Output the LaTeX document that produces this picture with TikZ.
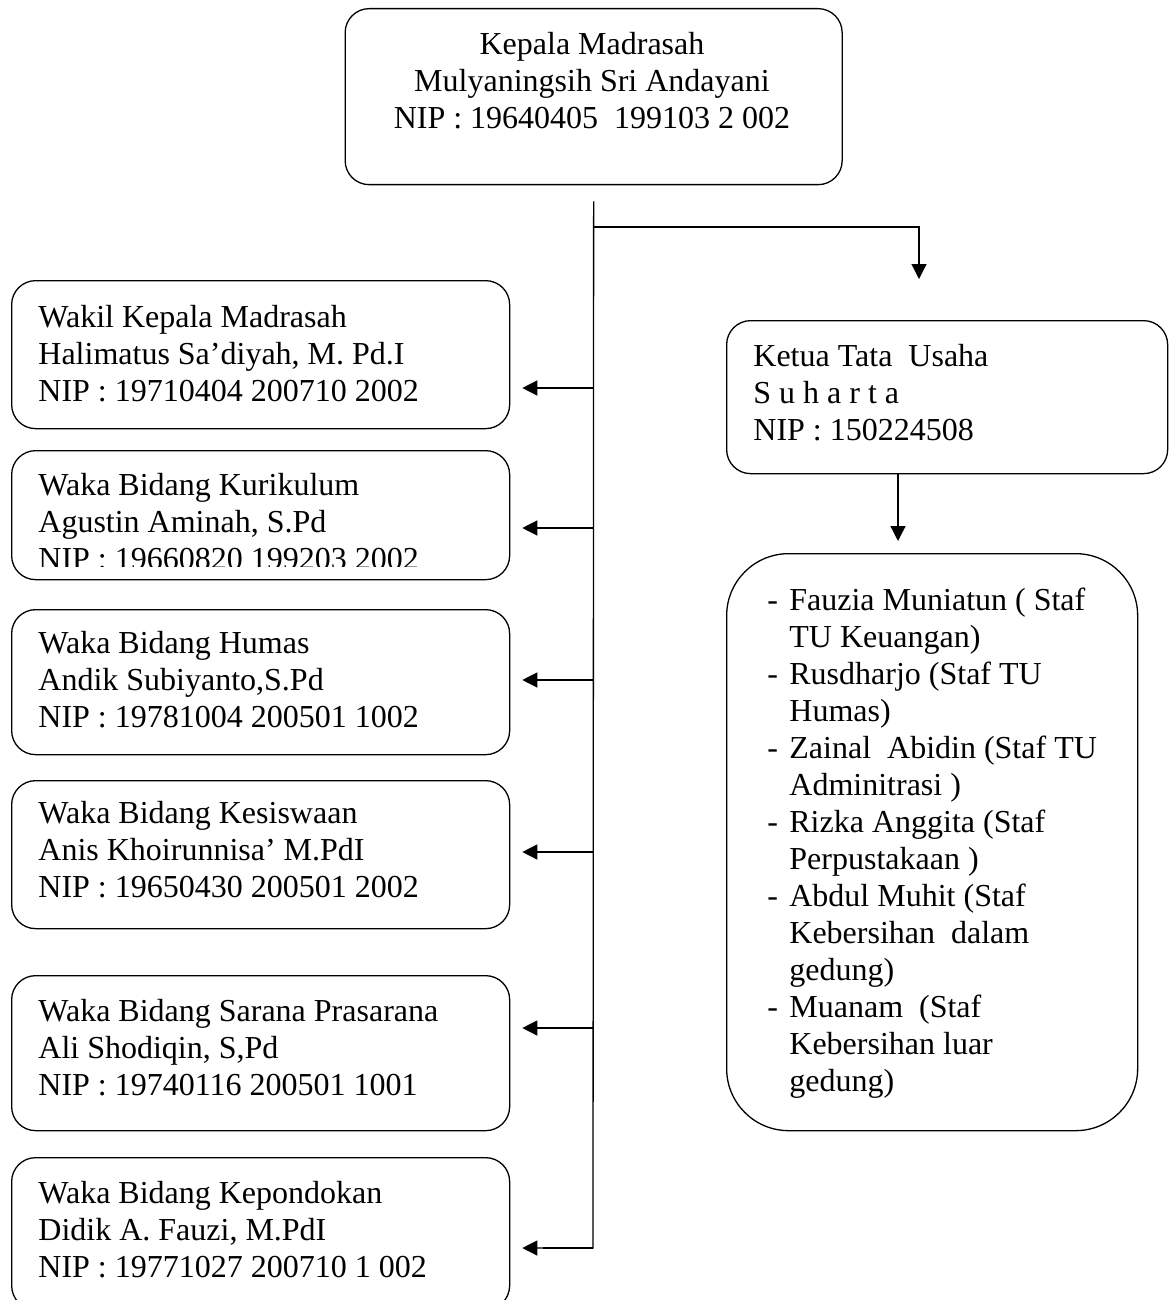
\documentclass[tikz,border=0pt]{standalone}
\usepackage{fontspec}
\setmainfont{Liberation Serif}
\usetikzlibrary{arrows.meta}
\newcommand{\leftlines}[1]{\vtop{\baselineskip=18.5pt\lineskiplimit=-20pt\lineskip=0pt\halign{##\hfil\cr#1\crcr}}}
\newcommand{\centerlines}[1]{\vtop{\baselineskip=18.5pt\lineskiplimit=-20pt\lineskip=0pt\halign{\hfil##\hfil\cr#1\crcr}}}
\newcommand{\dashitem}{\makebox[11pt][l]{-}}
\newcommand{\contitem}{\hskip11pt\relax}
\begin{document}
\begin{tikzpicture}[x=0.5pt,y=-0.5pt,
  box/.style={draw, line width=0.65pt, rounded corners=12pt, inner sep=0pt, anchor=north west},
  lbox/.style={box, minimum width=249pt},
  txt/.style={inner sep=0pt, anchor=base west, font=\fontsize{16pt}{18.5pt}\selectfont},
  ctxt/.style={txt, anchor=base},
  conn/.style={line width=0.65pt},
  arr/.style={conn, -{Triangle[length=7.5pt,width=7.5pt]}},
]
\clip (0,0) rectangle (1170,1300);
\fill[white] (0,0) rectangle (1170,1300);

% boxes
\node[box, minimum width=248.5pt, minimum height=88pt] (kepala) at (344.5,8) {};
\node[box, minimum width=220.5pt, minimum height=76.5pt] (ketua) at (726,320) {};
\node[box, rounded corners=31pt, minimum width=205.5pt, minimum height=288.5pt] (staff) at (726,553) {};
\node[lbox, minimum height=74pt] (L1) at (11,280) {};
\node[lbox, minimum height=64.5pt] (L2) at (11,450) {};
\node[lbox, minimum height=72.5pt] (L3) at (11,609) {};
\node[lbox, minimum height=74pt] (L4) at (11,780) {};
\node[lbox, minimum height=77.5pt] (L5) at (11,975) {};
\node[lbox, minimum height=76pt] (L6) at (11,1157) {};

% texts
\node[ctxt] (t0) at (592,55) {\centerlines{Kepala Madrasah\cr Mulyaningsih Sri Andayani\cr NIP : 19640405\ \ 199103 2 002}};
\node[txt] (tk) at (753,366) {\leftlines{Ketua Tata\ \ Usaha\cr S u h a r t a\cr NIP : 150224508}};
\node[txt] (ts) at (767,610) {\leftlines{\dashitem Fauzia Muniatun ( Staf\cr
\contitem TU Keuangan)\cr
\dashitem Rusdharjo (Staf TU\cr
\contitem Humas)\cr
\dashitem Zainal\ \ Abidin (Staf TU\cr
\contitem Adminitrasi )\cr
\dashitem Rizka Anggita (Staf\cr
\contitem Perpustakaan )\cr
\dashitem Abdul Muhit (Staf\cr
\contitem Kebersihan\ \ dalam\cr
\contitem gedung)\cr
\dashitem Muanam\ \ (Staf\cr
\contitem Kebersihan luar\cr
\contitem gedung)}};
\node[txt] (tL1) at (38,327) {\leftlines{Wakil Kepala Madrasah\cr Halimatus Sa’diyah, M. Pd.I\cr NIP : 19710404 200710 2002}};
\begin{scope}
\clip (0,450) rectangle (600,566);
\node[txt] (tL2) at (38,495) {\leftlines{Waka Bidang Kurikulum\cr Agustin Aminah, S.Pd\cr NIP : 19660820 199203 2002}};
\end{scope}
\node[txt] (tL3) at (38,653) {\leftlines{Waka Bidang Humas\cr Andik Subiyanto,S.Pd\cr NIP : 19781004 200501 1002}};
\node[txt] (tL4) at (38,823) {\leftlines{Waka Bidang Kesiswaan\cr Anis Khoirunnisa’ M.PdI\cr NIP : 19650430 200501 2002}};
\node[txt] (tL5) at (38,1021) {\leftlines{Waka Bidang Sarana Prasarana\cr Ali Shodiqin, S,Pd\cr NIP : 19740116 200501 1001}};
\node[txt] (tL6) at (38,1203) {\leftlines{Waka Bidang Kepondokan\cr Didik A. Fauzi, M.PdI\cr NIP : 19771027 200710 1 002}};

% connectors
\coordinate (trunktop) at ([yshift=-8pt]kepala.south);
\coordinate (b0) at (593,227);
\coordinate (b1) at (919,227);
\coordinate (kx) at (898,0);
\coordinate (j1) at (593,388);
\coordinate (j2) at (593,528);
\coordinate (j3) at (593,680);
\coordinate (j4) at (593,852);
\coordinate (j5) at (593,1028);
\coordinate (j6) at (593,1248);

\draw[line width=1.3pt] (j6) -- ++(-50,0);
\draw[arr, shorten >=6pt] (trunktop) -- (j6) -- (j6 -| L6.east);
\draw[arr, shorten >=20.5pt] (b0) -- (b1) -- (b1 |- ketua.north);
\draw[arr, shorten >=6pt] (j1) -- (j1 -| L1.east);
\draw[arr, shorten >=6pt] (j2) -- (j2 -| L2.east);
\draw[arr, shorten >=6pt] (j3) -- (j3 -| L3.east);
\draw[arr, shorten >=6pt] (j4) -- (j4 -| L4.east);
\draw[arr, shorten >=6pt] (j5) -- (j5 -| L5.east);
\draw[arr, shorten >=6pt] (ketua.south -| kx) -- (staff.north -| kx);
\end{tikzpicture}
\end{document}
